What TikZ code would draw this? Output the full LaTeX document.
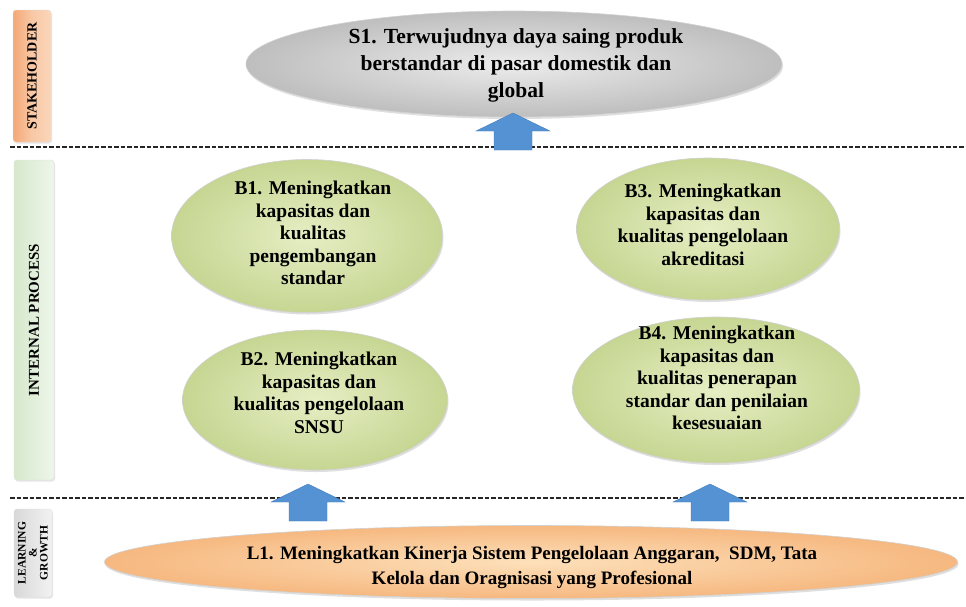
\documentclass[tikz,border=0pt]{standalone}
\usepackage{fontspec}
\setmainfont{Liberation Serif}
\usetikzlibrary{shapes.geometric,shadows,calc}
\definecolor{arrowblue}{RGB}{84,146,212}
\definecolor{arrowedge}{RGB}{70,125,185}
\definecolor{greenin}{RGB}{230,238,196}
\definecolor{greenout}{RGB}{198,214,146}
\definecolor{grayin}{RGB}{236,236,236}
\definecolor{grayout}{RGB}{190,190,190}
\definecolor{orangein}{RGB}{253,224,186}
\definecolor{orangeout}{RGB}{246,184,128}
\definecolor{shA}{RGB}{244,168,118}
\definecolor{shB}{RGB}{250,214,186}
\definecolor{ipA}{RGB}{214,232,204}
\definecolor{ipB}{RGB}{238,246,234}
\definecolor{lgA}{RGB}{216,216,216}
\definecolor{lgB}{RGB}{242,242,242}
\tikzset{
  goal/.style={ellipse, inner sep=0pt, draw=black!18, line width=0.6pt,
    drop shadow={opacity=0.25, shadow xshift=1pt, shadow yshift=-2pt}},
  greengoal/.style={goal, inner color=greenin, outer color=greenout},
  graygoal/.style={goal, inner color=grayin, outer color=grayout},
  orangegoal/.style={goal, inner color=orangein, outer color=orangeout},
  goaltext/.style={align=center, inner sep=0pt, font=\bfseries\fontsize{19.5}{22.5}\selectfont},
  sidebox/.style={rectangle, rounded corners=3pt, inner sep=0pt, draw=black!12,
    drop shadow={opacity=0.2, shadow xshift=1pt, shadow yshift=-1.5pt}},
  sidetext/.style={rotate=90, inner sep=0pt, align=center, font=\bfseries\fontsize{14}{14}\selectfont},
  divider/.style={draw=black!85, line width=1.3pt, dash pattern=on 4.5pt off 2pt},
  uparrow/.pic={
    \fill[arrowblue, draw=arrowedge, line width=0.4pt]
      (-19,0) -- (-19,-19) -- (-37,-19) -- (0,-37) -- (37,-19) -- (19,-19) -- (19,0) -- cycle;
  }
}
\begin{document}
\begin{tikzpicture}[x=1pt,y=-1pt]
\useasboundingbox (0,0) rectangle (966,606);
\fill[white] (0,0) rectangle (966,606);

% side perspective boxes
\node[sidebox, shading=axis, left color=shA, right color=shB, middle color=shB!70!shA,
  minimum width=38pt, minimum height=132pt] (sh) at (32,76) {};
\node[sidetext] (sht) at (sh.center) {STAKEHOLDER};
\node[sidebox, shading=axis, left color=ipA, right color=ipB,
  minimum width=40pt, minimum height=320pt] (ip) at (34,320) {};
\node[sidetext, font=\bfseries\fontsize{15}{15}\selectfont] (ipt) at (ip.center) {INTERNAL PROCESS};
\node[sidebox, shading=axis, left color=lgA, right color=lgB,
  minimum width=38pt, minimum height=88pt] (lg) at (33,553) {};
\node[sidetext, font=\bfseries\fontsize{11.5}{11}\selectfont] (lgt) at (lg.center) {LEARNING\\\&\\GROWTH};

% dividers
\draw[divider] (10,147) -- (966,147);
\draw[divider] (10,498) -- (966,498);

% goals
\node[graygoal, minimum width=536pt, minimum height=106pt] (s1) at (514,64) {};
\node[goaltext, font=\bfseries\fontsize{21.5}{27}\selectfont] (s1t) at (516,65)
  {S1. Terwujudnya daya saing produk\\berstandar di pasar domestik dan\\global};

\node[greengoal, minimum width=271pt, minimum height=153pt] (b1) at (307,236) {};
\node[goaltext] (b1t) at (313,233)
  {B1. Meningkatkan\\kapasitas dan\\kualitas\\pengembangan\\standar};

\node[greengoal, minimum width=265pt, minimum height=140pt] (b2) at (315,400) {};
\node[goaltext] (b2t) at (319,393)
  {B2. Meningkatkan\\kapasitas dan\\kualitas pengelolaan\\SNSU};

\node[greengoal, minimum width=263pt, minimum height=142pt] (b3) at (708,229) {};
\node[goaltext] (b3t) at (703,225)
  {B3. Meningkatkan\\kapasitas dan\\kualitas pengelolaan\\akreditasi};

\node[greengoal, minimum width=287pt, minimum height=146pt] (b4) at (716,390) {};
\node[goaltext] (b4t) at (717,378)
  {B4. Meningkatkan\\kapasitas dan\\kualitas penerapan\\standar dan penilaian\\kesesuaian};

\node[orangegoal, minimum width=853pt, minimum height=73pt] (l1) at (531,562) {};
\node[goaltext, font=\bfseries\fontsize{19}{25}\selectfont] (l1t) at (532,567)
  {L1. Meningkatkan Kinerja Sistem Pengelolaan Anggaran,\ \ SDM, Tata\\Kelola dan Oragnisasi yang Profesional};

% block arrows
\coordinate (a0) at (513,150);
\coordinate (a1) at (308,521);
\coordinate (a2) at (710,521);
\pic at (a0) {uparrow};
\pic at (a1) {uparrow};
\pic at (a2) {uparrow};
\end{tikzpicture}
\end{document}
